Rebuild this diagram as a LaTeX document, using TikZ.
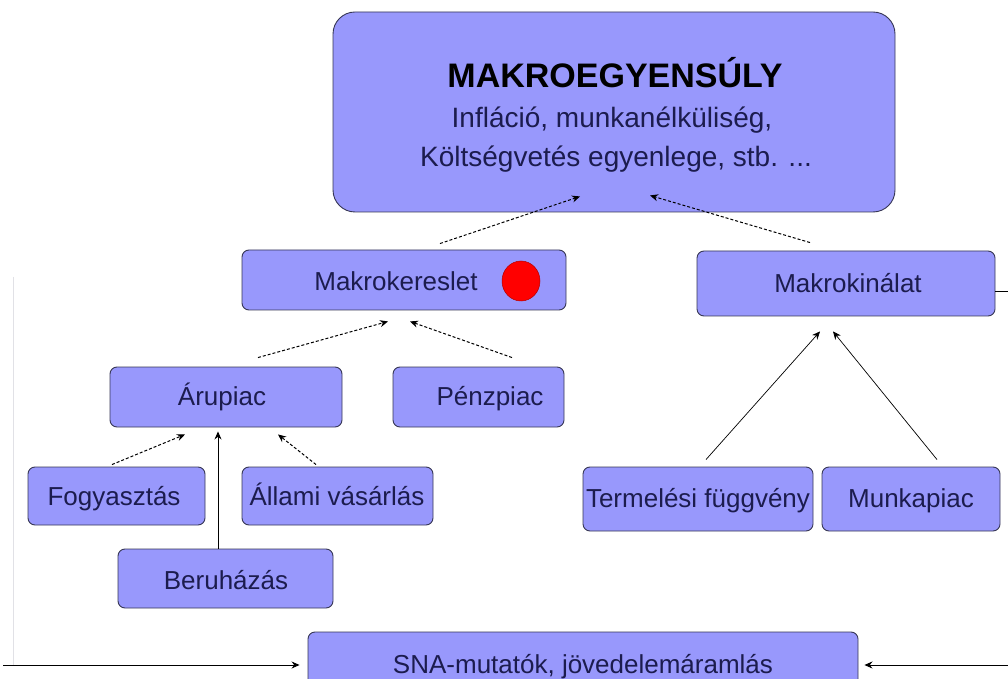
\documentclass[tikz,border=0pt]{standalone}
\usepackage{fontspec}
\setmainfont{Liberation Sans}
\usetikzlibrary{arrows.meta,shapes.geometric}
\definecolor{boxfill}{RGB}{152,152,252}
\definecolor{boxline}{RGB}{55,55,85}
\definecolor{navy}{RGB}{28,28,78}
\definecolor{faint}{RGB}{225,225,230}
\tikzset{
  px/.style={x=1pt,y=1pt},
  ebox/.style={draw=boxline,fill=boxfill,line width=0.9pt,rounded corners=7pt,inner sep=0pt,anchor=center},
  lbl/.style={text=navy,font=\fontsize{26}{30}\selectfont,inner sep=0pt,text height=18.7pt,text depth=0pt},
  dasharr/.style={line width=1pt,dash pattern=on 3pt off 2pt,-{Stealth[length=8pt,width=7pt]}},
  solarr/.style={line width=1pt,-{Stealth[length=8pt,width=7pt]}},
  thinarr/.style={line width=0.7pt,-{Stealth[length=8pt,width=7pt]}}
}
\begin{document}
\begin{tikzpicture}[px]
\useasboundingbox (0,0) rectangle (1008,678);
\clip (0,0) rectangle (1008,678);
\fill[white] (0,0) rectangle (1008,678);
% top box
\node[ebox,rounded corners=22pt,minimum width=562pt,minimum height=200pt] (top) at (614,566) {};
\node[font=\fontsize{34}{40}\selectfont\bfseries,inner sep=0pt,text height=24.4pt,text depth=0pt] (t1) at (615,603) {MAKROEGYENSÚLY};
\node[lbl,font=\fontsize{28}{32}\selectfont,text height=20pt] (t2) at (612,560) {Infláció, munkanélküliség,};
\node[lbl,font=\fontsize{28}{32}\selectfont,text height=20pt] (t3) at (616,521) {Költségvetés egyenlege, stb. ...};
% second level
\node[ebox,minimum width=324pt,minimum height=60pt] (mkr) at (404,398) {};
\node[lbl] (mkrt) at (396,397) {Makrokereslet};
\node[ellipse,fill=red,draw=red!70!black,line width=0.5pt,minimum width=38pt,minimum height=40pt,inner sep=0pt] (dot) at (521,397) {};
\node[ebox,minimum width=298pt,minimum height=65pt] (mki) at (846,394.5) {};
\node[lbl] (mkit) at (848,395) {Makrokinálat};
% third level
\node[ebox,minimum width=232pt,minimum height=60pt] (aru) at (226,281) {};
\node[lbl] (arut) at (222,282) {Árupiac};
\node[ebox,minimum width=171pt,minimum height=60pt] (pen) at (478.5,281) {};
\node[lbl] (pent) at (490,282) {Pénzpiac};
% fourth level
\node[ebox,minimum width=177pt,minimum height=58pt] (fog) at (116.5,182) {};
\node[lbl] (fogt) at (114,182) {Fogyasztás};
\node[ebox,minimum width=191pt,minimum height=58pt] (all) at (337.5,182) {};
\node[lbl] (allt) at (337,182) {Állami vásárlás};
\node[ebox,minimum width=215pt,minimum height=59pt] (ber) at (225.5,99.5) {};
\node[lbl] (bert) at (226,98) {Beruházás};
\node[ebox,minimum width=230pt,minimum height=64pt] (ter) at (698,179) {};
\node[lbl] (tert) at (698,180) {Termelési függvény};
\node[ebox,minimum width=178pt,minimum height=64pt] (mun) at (911,179) {};
\node[lbl] (munt) at (911,180) {Munkapiac};
% bottom
\node[ebox,minimum width=550pt,minimum height=68pt] (sna) at (583,12) {};
\node[lbl] (snat) at (583,14) {SNA-mutatók, jövedelemáramlás};
% arrows
\draw[dasharr] ([xshift=36pt,yshift=6pt]mkr.north) -- ([xshift=-34pt,yshift=16pt]top.south);
\draw[dasharr] ([xshift=-36pt,yshift=8pt]mki.north) -- ([xshift=36pt,yshift=17pt]top.south);
\draw[dasharr] ([xshift=32pt,yshift=9pt]aru.north) -- ([xshift=-16pt,yshift=-11pt]mkr.south);
\draw[dasharr] ([xshift=33.5pt,yshift=9pt]pen.north) -- ([xshift=6pt,yshift=-11pt]mkr.south);
\draw[dasharr] ([xshift=-4.5pt,yshift=2pt]fog.north) -- ([xshift=-41pt,yshift=-7pt]aru.south);
\draw[dasharr] ([xshift=-21.5pt,yshift=2pt]all.north) -- ([xshift=52pt,yshift=-7pt]aru.south);
\draw[solarr] ([xshift=-7.5pt]ber.north) -- ([xshift=-8pt,yshift=-4pt]aru.south);
\draw[thinarr] ([xshift=8pt,yshift=7pt]ter.north) -- ([xshift=-26pt,yshift=-15pt]mki.south);
\draw[thinarr] ([xshift=26pt,yshift=7pt]mun.north) -- ([xshift=-13pt,yshift=-15pt]mki.south);
% side feedback lines
\coordinate (lt) at (13,401);
\coordinate (lb) at (13,13);
\coordinate (ls) at (3,13);
\coordinate (rt) at (1008,386);
\coordinate (rs) at (1008,13);
\draw[faint,line width=1pt] (lt) -- (lb);
\draw[solarr] (ls) -- ([xshift=-8pt]sna.west |- ls);
\draw[line width=1pt] (mki.east |- rt) -- (rt);
\draw[solarr] (rs) -- ([xshift=6pt]sna.east |- rs);
\end{tikzpicture}
\end{document}
